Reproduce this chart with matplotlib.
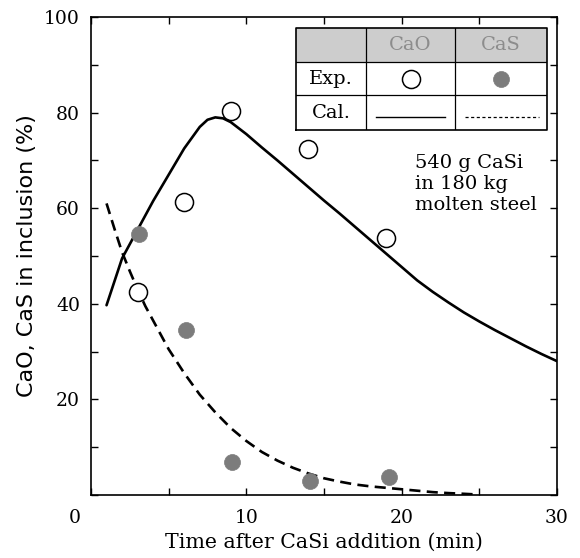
import matplotlib.pyplot as plt
import numpy as np
from matplotlib.ticker import MultipleLocator, FuncFormatter

# experimental points
cao_t = [3.0, 6.0, 9.0, 14.0, 19.0]
cao_exp = [42.5, 61.3, 80.3, 72.4, 53.8]
cas_t = [3.1, 6.1, 9.1, 14.1, 19.2]
cas_exp = [54.5, 34.5, 7.0, 3.0, 3.8]

# calculated curves
cao_calc_t = [1.0, 2.0, 3.0, 4.0, 5.0, 6.0, 7.0, 7.5, 8.0, 8.5, 9.0, 10, 11, 12, 13, 14,
              15, 16, 17, 18, 19, 20, 21, 22, 23, 24, 25, 26, 27, 28, 29, 30]
cao_calc = [39.7, 49.5, 55.5, 61.5, 67.0, 72.5, 77.0, 78.5, 79.0, 78.8, 78.0, 75.5, 72.7,
            70.0, 67.2, 64.4, 61.6, 58.9, 56.1, 53.3, 50.5, 47.7, 44.9, 42.5, 40.3, 38.2,
            36.3, 34.5, 32.8, 31.1, 29.5, 28.0]
cas_calc_t = [1.0, 1.5, 2.0, 2.5, 3.0, 3.5, 4.0, 5.0, 6.0, 7.0, 8.0, 9.0, 10, 11, 12, 13,
              14, 15, 16, 17, 18, 19, 20, 21, 22, 23, 24, 24.6]
cas_calc = [61.0, 55.8, 50.8, 46.8, 43.0, 39.5, 36.5, 30.5, 25.5, 21.0, 17.3, 14.0, 11.3,
            9.0, 7.2, 5.7, 4.5, 3.5, 2.8, 2.2, 1.8, 1.5, 1.2, 0.9, 0.6, 0.4, 0.25, 0.15]

serif = 'DejaVu Serif'
sans = 'DejaVu Sans'
gray = '#7c7c7c'

fig = plt.figure(figsize=(5.8, 5.58), dpi=100)
ax = fig.add_axes([91/580, 1 - 495/558, 466/580, 478/558])

ax.plot(cao_calc_t, cao_calc, color='black', lw=1.9, solid_capstyle='round')
ax.plot(cas_calc_t, cas_calc, color='black', lw=1.9, dashes=(4.2, 2.4))
ax.plot(cao_t, cao_exp, 'o', ms=13, mfc='white', mec='black', mew=1.1)
ax.plot(cas_t, cas_exp, 'o', ms=11.5, mfc=gray, mec=gray, mew=0.5)

ax.set_xlim(0, 30)
ax.set_ylim(0, 100)
ax.xaxis.set_major_locator(MultipleLocator(5))
ax.yaxis.set_major_locator(MultipleLocator(10))
ax.xaxis.set_major_formatter(FuncFormatter(lambda v, p: f"{v:.0f}" if v % 10 == 0 and v > 0 else ""))
ax.yaxis.set_major_formatter(FuncFormatter(lambda v, p: f"{v:.0f}" if v % 20 == 0 and v > 0 else ""))
ax.tick_params(direction='in', length=5, width=1, top=True, right=True,
               labelsize=13.5)
ax.tick_params(axis='x', pad=10)
ax.tick_params(axis='y', pad=8)
for lbl in ax.get_xticklabels() + ax.get_yticklabels():
    lbl.set_family(serif)
for s in ax.spines.values():
    s.set_linewidth(1.2)

fig.text(75/580, 1 - 518/558, "0", ha='center', va='center', fontsize=13.5, family=serif)
ax.set_xlabel("Time after CaSi addition (min)", fontsize=14.8, family=serif, labelpad=4)
ax.set_ylabel("CaO, CaS in inclusion (%)", fontsize=16, family=sans, labelpad=5)

ax.text(415/580, 1 - 154/558, "540 g CaSi\nin 180 kg\nmolten steel", transform=fig.transFigure,
        fontsize=14, family=serif, va='top', ha='left', linespacing=1.2)

# table-style legend
tb = fig.add_axes([296/580, 1 - 130/558, 251/580, 102/558])
tb.set_xlim(0, 1)
tb.set_ylim(0, 1)
tb.axis('off')
c1, c2 = 70/251, 159/251
r1, r2 = 1 - 34/102, 1 - 67/102
tb.fill_between([0, 1], r1, 1, color='#cdcdcd', lw=0)
tb.plot([0, 1, 1, 0, 0], [0, 0, 1, 1, 0], color='black', lw=1.2, clip_on=False)
tb.plot([0, 1], [r1, r1], color='black', lw=0.9)
tb.plot([0, 1], [r2, r2], color='black', lw=0.9)
tb.plot([c1, c1], [0, 1], color='black', lw=0.9)
tb.plot([c2, c2], [0, 1], color='black', lw=0.9)
tb.text((c1 + c2) / 2, (r1 + 1) / 2, "CaO", ha='center', va='center', fontsize=14,
        family=serif, color='#8c8c8c')
tb.text((c2 + 1) / 2, (r1 + 1) / 2, "CaS", ha='center', va='center', fontsize=14,
        family=serif, color='#8c8c8c')
tb.text(c1 / 2, (r2 + r1) / 2, "Exp.", ha='center', va='center', fontsize=14, family=serif)
tb.text(c1 / 2, r2 / 2, "Cal.", ha='center', va='center', fontsize=14, family=serif)
tb.plot([(c1 + c2) / 2], [(r2 + r1) / 2], 'o', ms=13, mfc='white', mec='black', mew=1.1)
tb.plot([(c2 + 1) / 2], [(r2 + r1) / 2], 'o', ms=11.5, mfc=gray, mec=gray, mew=0.5)
tb.plot([c1 + 0.04, c2 - 0.04], [r2 / 2 - 0.04] * 2, color='black', lw=1.0)
tb.plot([c2 + 0.04, 1 - 0.03], [r2 / 2 - 0.04] * 2, color='black', lw=0.9, dashes=(2.5, 2))

fig.savefig("out.png", dpi=100)
